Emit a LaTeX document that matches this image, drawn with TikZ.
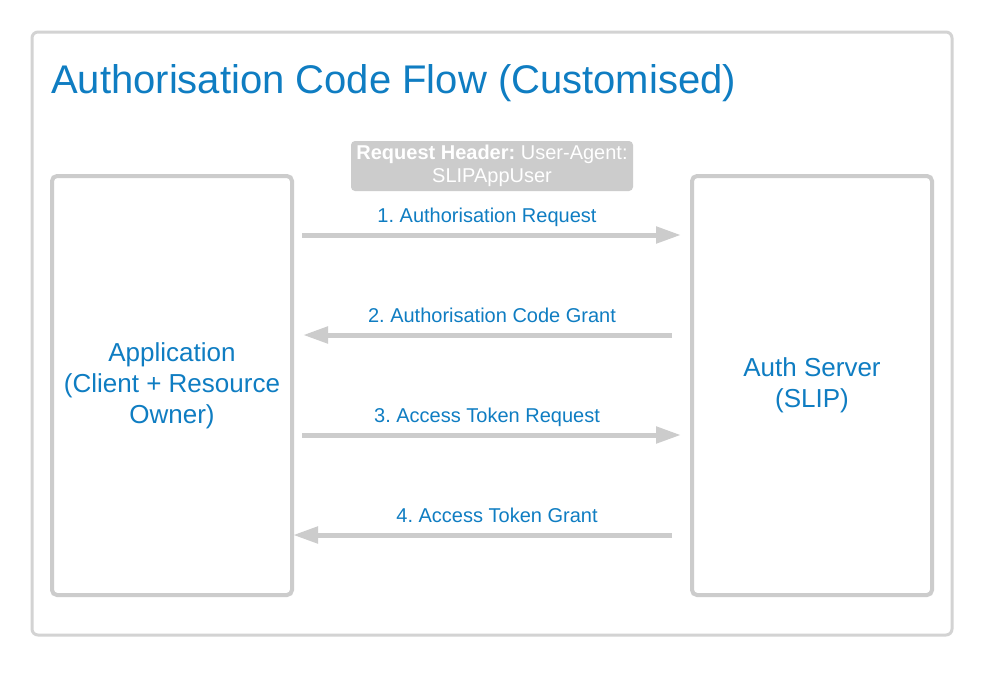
\documentclass[tikz,border=0pt]{standalone}
\usepackage{fontspec}
\setmainfont{Liberation Sans}
\usetikzlibrary{arrows.meta}
\definecolor{lcblue}{HTML}{0F7DC2}
\definecolor{lcgray}{HTML}{CCCCCC}
\definecolor{framegray}{HTML}{D3D3D3}
\frenchspacing
\begin{document}
\begin{tikzpicture}[x=1pt,y=-1pt,
  actor/.style={draw=lcgray,line width=4pt,rounded corners=5pt,minimum width=240pt,minimum height=419pt,
    align=center,text=lcblue,font=\fontsize{26}{31}\selectfont,inner sep=0pt},
  msg/.style={draw=lcgray,line width=5pt,-{Triangle[length=25pt,width=16pt]}},
  msglabel/.style={text=lcblue,font=\fontsize{20}{23}\selectfont,inner sep=0pt,anchor=base},
  hdr/.style={fill=lcgray,rounded corners=4pt,text=white,align=center,minimum width=282pt,minimum height=50pt,
    font=\fontsize{20}{23}\selectfont,inner sep=0pt}
]
\useasboundingbox (0,0) rectangle (992,675);
\fill[white] (0,0) rectangle (992,675);
\node[draw=framegray,line width=3pt,rounded corners=6pt,minimum width=920pt,minimum height=603pt,inner sep=0pt] (frame) at (492,333.5) {};
\node[anchor=base west,text=lcblue,font=\fontsize{40}{48}\selectfont,inner sep=0pt] (title) at (51,93) {Authorisation Code Flow (Customised)};
\node[actor] (app) at (172,385.5) {Application\\(Client + Resource\\Owner)};
\node[actor] (srv) at (812,385.5) {Auth Server\\(SLIP)};
\node[hdr] (hdr) at (492,166) {\textbf{Request Header:} User-Agent:\\SLIPAppUser};
% connector end points
\coordinate (a1s) at (302,235); \coordinate (a1e) at (681,235);
\coordinate (a2s) at (672,335); \coordinate (a2e) at (303,335);
\coordinate (a3s) at (302,435); \coordinate (a3e) at (681,435);
\coordinate (a4s) at (672,535); \coordinate (a4e) at (293,535);
\draw[msg] (a1s) -- (a1e);
\draw[msg] (a2s) -- (a2e);
\draw[msg] (a3s) -- (a3e);
\draw[msg] (a4s) -- (a4e);
\node[msglabel] (l1) at (487,222) {1. Authorisation Request};
\node[msglabel] (l2) at (492,322) {2. Authorisation Code Grant};
\node[msglabel] (l3) at (487,422) {3. Access Token Request};
\node[msglabel] (l4) at (497,522) {4. Access Token Grant};
\end{tikzpicture}
\end{document}
